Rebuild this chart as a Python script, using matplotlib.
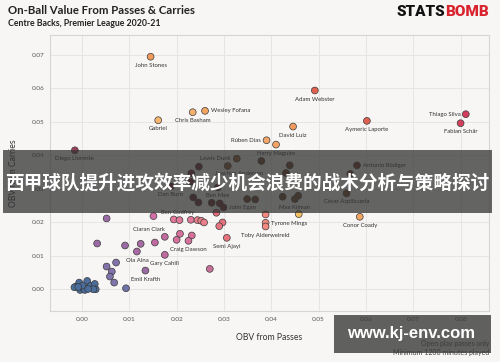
import numpy as np
import matplotlib.pyplot as plt
from matplotlib.patches import Rectangle

# ---- data (OBV per 90) ----
names = ['John Stones', 'Gabriel', 'Chris Basham', 'Wesley Fofana', 'Diego Llorente',
         'Adam Webster', 'Aymeric Laporte', 'Thiago Silva', 'Fabian Schär', 'David Luiz',
         'Rúben Dias', 'Harry Maguire', 'Lewis Dunk', 'Joachim Andersen', 'Antonio Rüdiger',
         'César Azpilicueta', 'Max Kilman', 'Conor Coady', 'Tyrone Mings', 'Toby Alderweireld',
         'Semi Ajayi', 'Craig Dawson', 'Ciaran Clark', 'Ola Aina', 'Gary Cahill',
         'Emil Krafth', 'Ben Godfrey', 'Dan Burn', 'Ben Mee', 'John Egan']
obv_pass = [0.0145, 0.0161, 0.0234, 0.0260, -0.0015,
            0.0492, 0.0602, 0.0811, 0.0800, 0.0446,
            0.0390, 0.0410, 0.0327, 0.0308, 0.0581,
            0.0559, 0.0450, 0.0587, 0.0388, 0.0388,
            0.0306, 0.0225, 0.0151, 0.0116, 0.0175,
            0.0134, 0.0235, 0.0188, 0.0287, 0.0349]
obv_carry = [0.0695, 0.0505, 0.0529, 0.0533, 0.0415,
             0.0594, 0.0503, 0.0523, 0.0496, 0.0486,
             0.0445, 0.0432, 0.0390, 0.0368, 0.0370,
             0.0286, 0.0269, 0.0216, 0.0198, 0.0187,
             0.0153, 0.0144, 0.0218, 0.0112, 0.0102,
             0.0055, 0.0274, 0.0307, 0.0304, 0.0269]
named_colors = ['#f09a5c', '#f6b770', '#f4b06e', '#f3a562', '#9c3f5c',
                '#e2604e', '#e0604f', '#d53c5c', '#d3405e', '#f09a5e',
                '#f4a668', '#f3a466', '#8f5a2a', '#8c5628', '#7a3020',
                '#7a4a25', '#6e4a25', '#f2a560', '#f28a80', '#f28a80',
                '#e8737f', '#d8709c', '#d070a6', '#a86aa4', '#c06aa0',
                '#9a6aa0', '#6a2428', '#74262e', '#722e2a', '#6e3a25']

# unlabelled players
other_pass = [0.0379, 0.0247, 0.0231, 0.0439, 0.0431, 0.0567, 0.0424, 0.0457,
              0.0246, 0.0274, 0.0291, 0.0299, 0.0366, 0.0230,
              0.0284, 0.0297, 0.0290, 0.0388, 0.0458,
              0.0194, 0.0206, 0.0230, 0.0244, 0.0252, 0.0258,
              0.0052, 0.0032, 0.0091, 0.0124, 0.0154, 0.0175, 0.0200, 0.0207, 0.0232, 0.0270,
              0.0052, 0.0072, 0.0063, 0.0059, 0.0068, 0.0093,
              -0.0006, -0.0013, -0.0004, 0.0003, 0.0011, 0.0010, 0.0018, 0.0027,
              0.0029, 0.0024, 0.0006, -0.0016, 0.0001, -0.0008, 0.0013]
other_carry = [0.0383, 0.0366, 0.0346, 0.0370, 0.0347, 0.0344, 0.0276, 0.0279,
               0.0259, 0.0258, 0.0256, 0.0244, 0.0268, 0.0321,
               0.0228, 0.0199, 0.0188, 0.0223, 0.0224,
               0.0208, 0.0206, 0.0207, 0.0206, 0.0204, 0.0199,
               0.0211, 0.0136, 0.0130, 0.0135, 0.0139, 0.0156, 0.0147, 0.0165, 0.0160, 0.0060,
               0.0067, 0.0079, 0.0052, 0.0037, 0.0019, 0.0002,
               0.0019, 0.0007, -0.0003, 0.0002, 0.0024, 0.0002, 0.0009, 0.0015,
               -0.0001, -0.0001, -0.0003, 0.0005, 0.0010, 0.0006, 0.0000]
other_colors = ['#6b3f22', '#7a2a3a', '#7a2830', '#6e3e22', '#6a3a20', '#6e3520', '#6a4422', '#6e4a25',
                '#6a2a2c', '#6e2a2a', '#722e2a', '#6e3028', '#6e3c22', '#74262e',
                '#e56a78', '#e8737f', '#e8737f', '#f28a80', '#f5c060',
                '#e2789a', '#e2789a', '#e2789a', '#ea7f8a', '#ea7f8a', '#ea7f8a',
                '#9a6aa6', '#9a6aa6', '#9a6aa6', '#a86aa4', '#c06aa0', '#c06aa0', '#d8709c', '#d8709c', '#d8709c', '#c8709a',
                '#8372ab', '#8372ab', '#8372ab', '#7f74ab', '#7f74ab', '#6e73a8'] + ['#4a6d9c'] * 15

# label offsets in points (dx, dy, ha)
label_pos = {'Wesley Fofana': (4, 0, 'left'), 'Thiago Silva': (-4, 0, 'right'),
             'Rúben Dias': (-4, 0, 'right'), 'Lewis Dunk': (-4, 0, 'right'),
             'Joachim Andersen': (8, -5.5, 'center'), 'Antonio Rüdiger': (4, 0, 'left'),
             'Tyrone Mings': (4, -0.7, 'left'), 'Ciaran Clark': (-3.6, -9.4, 'center'),
             'Ben Godfrey': (-11, -11, 'center'), 'Dan Burn': (0, -6.2, 'center'),
             'John Egan': (-3, -6.3, 'center')}

bg = '#f7f6f4'
fig = plt.figure(figsize=(5, 3.62), dpi=100, facecolor=bg)
ax = fig.add_axes([0.1, 0.1409, 0.878, 0.7624], facecolor=bg)

ax.scatter(other_pass, other_carry, s=24, c=other_colors, edgecolors='#3a3a3a', linewidths=0.5, zorder=3)
ax.scatter(obv_pass, obv_carry, s=24, c=named_colors, edgecolors='#3a3a3a', linewidths=0.5, zorder=3)

for n, xv, yv in zip(names, obv_pass, obv_carry):
    dx, dy, ha = label_pos.get(n, (0, -6.2, 'center'))
    ax.annotate(n, (xv, yv), xytext=(dx, dy), textcoords='offset points',
                ha=ha, va='center', fontsize=4.3, family='Lato', color='#333333', zorder=4)

ax.set_xlim(-0.00676, 0.0860)
ax.set_ylim(-0.0066, 0.076)
ax.set_xticks(np.arange(0, 0.081, 0.01))
ax.set_yticks(np.arange(0, 0.071, 0.01))
ax.set_xticklabels(['%.2f' % v for v in np.arange(0, 0.081, 0.01)])
ax.set_yticklabels(['%.2f' % v for v in np.arange(0, 0.071, 0.01)])
ax.tick_params(length=0, labelsize=4.6, colors='#555555', pad=4)
for lab in ax.get_xticklabels() + ax.get_yticklabels():
    lab.set_family('Lato')
ax.grid(True, color='#e6e5e3', linewidth=0.7, zorder=0)
ax.axvline(0, color='#999999', linestyle=(0, (1, 1.2)), linewidth=0.6, zorder=1)
ax.axhline(0, color='#999999', linestyle=(0, (1, 1.2)), linewidth=0.6, zorder=1)
for sp in ax.spines.values():
    sp.set_color('#d6d5d3')
    sp.set_linewidth(0.8)

ax.set_xlabel('OBV from Passes', fontsize=6.2, family='Lato', color='#333333', labelpad=8)
ax.set_ylabel('OBV from Carries', fontsize=6.2, family='Lato', color='#333333', labelpad=10)

fig.text(0.016, 0.972, 'On-Ball Value From Passes & Carries', fontsize=8.2, weight='bold',
         family='Lato', color='#222222', va='center')
fig.text(0.016, 0.934, 'Centre Backs, Premier League 2020-21', fontsize=6.3, weight='bold',
         family='Lato', color='#222222', va='center')

# logo: "STATS" butted against "BOMB"
bomb = fig.text(0.978, 0.966, 'BOMB', fontsize=11, weight='heavy', family='Roboto', color='#d9232e',
                va='center', ha='right')
fig.canvas.draw()
bb = bomb.get_window_extent().transformed(fig.transFigure.inverted())
fig.text(bb.x0, 0.966, 'STATS', fontsize=11, weight='heavy', family='Roboto', color='#111111',
         va='center', ha='right')

fig.text(0.978, 0.050, 'Open play passes only', fontsize=5, family='Lato', color='#444444', ha='right', va='center')
fig.text(0.978, 0.025, 'Minimum 1200 minutes played', fontsize=5, family='Lato', color='#444444', ha='right', va='center')

# overlay banner and watermark
fig.patches.append(Rectangle((0.006, 0.4116), 0.978, 0.174, transform=fig.transFigure,
                             facecolor='#333333', alpha=0.75, zorder=10))
fig.text(0.494, 0.4945, '西甲球队提升进攻效率减少机会浪费的战术分析与策略探讨', fontsize=13.4,
         weight='bold', family=['Noto Sans CJK SC', 'DejaVu Sans'], color='white',
         ha='center', va='center', zorder=11)
fig.patches.append(Rectangle((0.668, 0.0249), 0.314, 0.105, transform=fig.transFigure,
                             facecolor='#3a3a3a', alpha=0.8, zorder=10))
fig.text(0.823, 0.080, 'www.kj-env.com', fontsize=12, weight='bold', family='Liberation Sans',
         color='white', ha='center', va='center', zorder=11)

fig.savefig('out.png', dpi=100, facecolor=bg)
